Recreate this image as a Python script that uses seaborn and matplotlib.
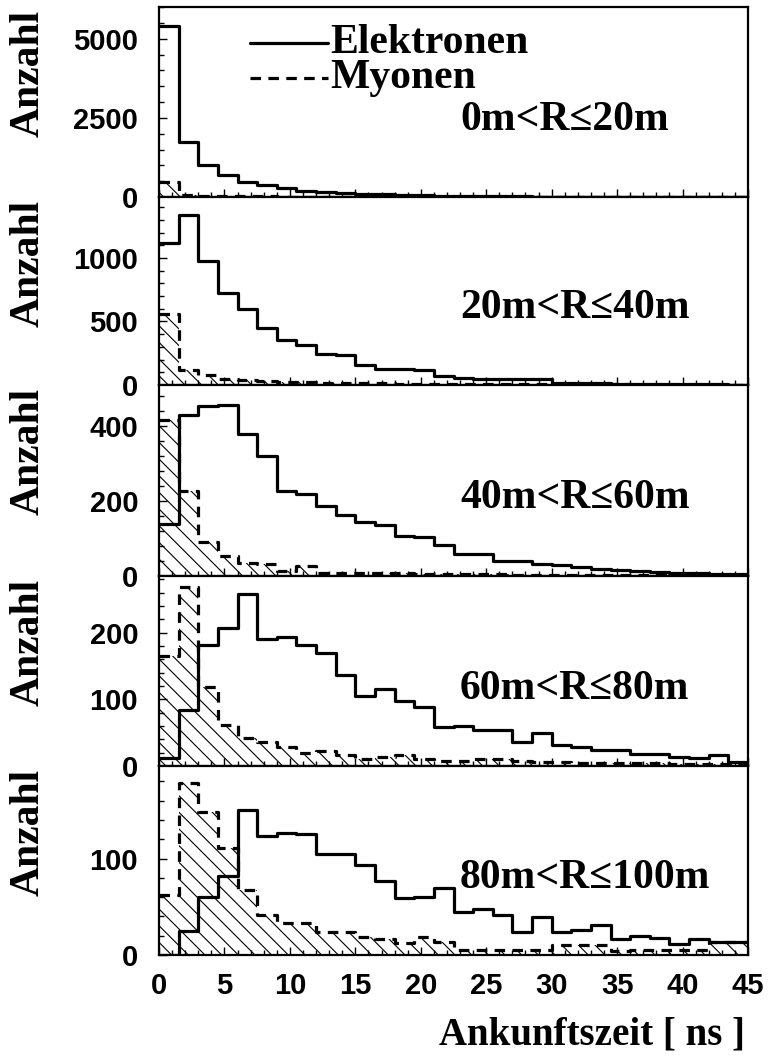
import numpy as np
import matplotlib
matplotlib.use("Agg")
import matplotlib.pyplot as plt
from matplotlib.lines import Line2D
from matplotlib.ticker import MultipleLocator, AutoMinorLocator
import seaborn as sns

# ---------------- data (bin width 1.5 ns, 0-45 ns) ----------------
n_bins = 30
t_range = (0.0, 45.0)
bin_centers = np.linspace(0.75, 44.25, n_bins)

panel_labels = ["0m<R\u226420m", "20m<R\u226440m", "40m<R\u226460m",
                "60m<R\u226480m", "80m<R\u2264100m"]

elektronen_0_20 = [5400, 1740, 1010, 690, 470, 372, 276, 190, 160, 130, 100, 80, 62, 50, 40,
                   32, 26, 21, 17, 14, 11, 9, 7, 6, 5, 4, 3, 3, 2, 2]
myonen_0_20 = [475, 70, 45, 30, 22, 16, 12, 9, 7, 6, 5, 4, 4, 3, 3,
               3, 2, 2, 2, 2, 1, 1, 1, 1, 1, 1, 1, 1, 1, 1]

elektronen_20_40 = [1121, 1336, 973, 724, 600, 452, 355, 316, 242, 240, 158, 126, 124, 120, 70,
                    52, 47, 44, 46, 48, 18, 15, 12, 10, 9, 8, 6, 5, 4, 3]
myonen_20_40 = [560, 118, 80, 50, 40, 30, 25, 20, 18, 16, 14, 12, 10, 10, 9,
                8, 8, 7, 6, 6, 5, 5, 4, 4, 3, 3, 3, 2, 2, 2]

elektronen_40_60 = [138, 431, 453, 456, 380, 320, 227, 218, 187, 162, 144, 135, 107, 104, 82,
                    60, 60, 40, 40, 33, 30, 25, 20, 16, 14, 10, 8, 8, 6, 5]
myonen_40_60 = [416, 227, 91, 53, 36, 31, 13, 27, 9, 8, 8, 7, 7, 6, 6,
                5, 5, 5, 4, 4, 4, 3, 3, 3, 3, 2, 2, 2, 2, 2]

elektronen_60_80 = [12, 84, 181, 207, 258, 191, 194, 181, 170, 136, 105, 115, 98, 89, 58,
                    60, 54, 54, 36, 50, 31, 29, 24, 24, 18, 18, 14, 12, 17, 6]
myonen_60_80 = [165, 269, 119, 61, 42, 36, 29, 19, 23, 16, 11, 13, 16, 11, 8,
                8, 10, 10, 7, 6, 6, 5, 5, 4, 4, 4, 3, 3, 3, 3]

elektronen_80_100 = [0, 25, 60, 82, 150, 123, 127, 125, 105, 105, 93, 77, 59, 60, 70,
                     45, 48, 42, 24, 39, 24, 26, 31, 17, 20, 18, 11, 17, 13, 14]
myonen_80_100 = [62, 178, 148, 111, 67, 41, 33, 33, 24, 24, 19, 17, 12, 19, 14,
                 5, 5, 5, 5, 5, 10, 10, 10, 4, 5, 5, 5, 5, 13, 13]

elektronen = [elektronen_0_20, elektronen_20_40, elektronen_40_60, elektronen_60_80, elektronen_80_100]
myonen = [myonen_0_20, myonen_20_40, myonen_40_60, myonen_60_80, myonen_80_100]

y_max = [6000, 1480, 510, 285, 196]
y_major = [2500, 500, 200, 100, 100]
x_ticks = [0, 5, 10, 15, 20, 25, 30, 35, 40, 45]

legend_labels = ["Elektronen", "Myonen"]
x_label = "Ankunftszeit [ ns ]"
y_label = "Anzahl"

# ---------------- style ----------------
sns.set_style("white")
plt.rcParams["hatch.linewidth"] = 0.8
plt.rcParams["text.color"] = "black"
plt.rcParams["axes.labelcolor"] = "black"
plt.rcParams["xtick.color"] = "black"
plt.rcParams["ytick.color"] = "black"
plt.rcParams["xtick.labelcolor"] = "black"
plt.rcParams["ytick.labelcolor"] = "black"
plt.rcParams["font.family"] = ["Liberation Sans", "DejaVu Sans"]
serif = ["Liberation Serif", "DejaVu Serif"]

W, H = 769, 1064
fig = plt.figure(figsize=(W / 100, H / 100), dpi=100)

left_px, right_px = 159, 748
tops_px = [7, 197, 385, 576, 766]
bottoms_px = [197, 385, 576, 766, 955]

dash = (0, (3.3, 2.3))
lw = 2.3

for i in range(5):
    t, b = tops_px[i], bottoms_px[i]
    ax = fig.add_axes([left_px / W, 1 - b / H, (right_px - left_px) / W, (b - t) / H])
    ax.set_facecolor("white")

    mu = np.asarray(myonen[i], dtype=float)
    el = np.asarray(elektronen[i], dtype=float)

    # muons: hatched fill
    sns.histplot(x=bin_centers, weights=mu, bins=n_bins, binrange=t_range, element="step",
                 fill=True, color="black", facecolor="none", edgecolor="black",
                 hatch="\\\\", linewidth=0, ax=ax)
    # muons: dashed outline
    sns.histplot(x=bin_centers, weights=mu, bins=n_bins, binrange=t_range, element="step",
                 fill=False, color="black", linewidth=lw, linestyle=dash, ax=ax)
    # electrons: solid outline
    sns.histplot(x=bin_centers, weights=el, bins=n_bins, binrange=t_range, element="step",
                 fill=False, color="black", linewidth=lw, ax=ax)

    ax.set_xlim(0, 45)
    ax.set_ylim(0, y_max[i])
    ax.set_xlabel("")
    ax.set_ylabel("")
    ax.yaxis.set_major_locator(MultipleLocator(y_major[i]))
    ax.yaxis.set_minor_locator(AutoMinorLocator(5))
    ax.set_xticks(x_ticks)
    ax.xaxis.set_minor_locator(AutoMinorLocator(5))

    for s in ax.spines.values():
        s.set_visible(True)
        s.set_linewidth(1.6)
        s.set_color("black")

    ax.tick_params(axis="both", which="both", direction="in", left=True, bottom=True,
                   top=False, right=False, colors="black", labelcolor="black")
    ax.tick_params(axis="both", which="major", length=6, width=1.0)
    ax.tick_params(axis="both", which="minor", length=3.5, width=1.0)
    ax.tick_params(axis="y", which="major", pad=15, labelsize=21)
    ax.tick_params(axis="x", which="major", pad=12, labelsize=21)
    for lab in ax.get_yticklabels():
        lab.set_fontweight("bold")
    if i < 4:
        ax.tick_params(axis="x", labelbottom=False)
    else:
        for lab in ax.get_xticklabels():
            lab.set_fontweight("bold")

    ax.text(-0.222, 0.984, y_label, rotation=90, ha="center", va="top", color="black",
            transform=ax.transAxes, fontsize=30, fontweight="bold", family=serif)
    ax.text(0.511, 0.355, panel_labels[i], ha="left", va="baseline", color="black",
            transform=ax.transAxes, fontsize=30, fontweight="bold", family=serif)

    if i == 0:
        ax.add_line(Line2D([0.1545, 0.287], [0.81, 0.81], transform=ax.transAxes,
                           color="black", linewidth=lw))
        ax.add_line(Line2D([0.1545, 0.287], [0.626, 0.626], transform=ax.transAxes,
                           color="black", linewidth=lw, linestyle=dash))
        ax.text(0.29, 0.757, legend_labels[0], ha="left", va="baseline", color="black",
                transform=ax.transAxes, fontsize=30, fontweight="bold", family=serif)
        ax.text(0.29, 0.573, legend_labels[1], ha="left", va="baseline", color="black",
                transform=ax.transAxes, fontsize=30, fontweight="bold", family=serif)

fig.text(745 / W, 1 - 1035 / H, x_label, ha="right", va="center", color="black",
         fontsize=28, fontweight="bold", family=serif)

fig.savefig("out.png", dpi=100, facecolor="white")
